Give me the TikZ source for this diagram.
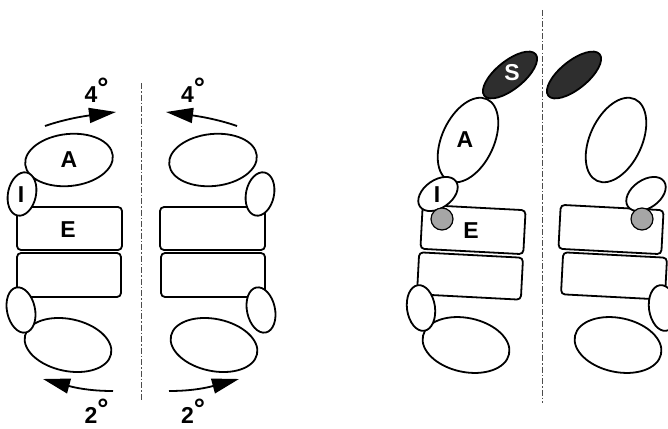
\documentclass[tikz,border=0pt]{standalone}
\usepackage{fontspec}
\setmainfont{Liberation Sans}
\usetikzlibrary{shapes.geometric,arrows.meta}

% one half of the front view (rib pair); #1 = name prefix
\newcommand\frontpair[1]{%
  \node[slab, minimum width=105pt, minimum height=43pt] (#1E) at (69.5,228.5) {};
  \node[slab, minimum width=104pt, minimum height=44pt] (#1L) at (69,275) {};
  \node[oval, minimum width=88pt, minimum height=52pt, rotate=6] (#1A) at (69,160) {};
  \node[oval, minimum width=88pt, minimum height=52pt, rotate=-12] (#1B) at (68,345) {};
  \node[oval, minimum width=28pt, minimum height=44pt, rotate=-12] (#1I) at (22,194) {};
  \node[oval, minimum width=28pt, minimum height=46pt, rotate=12] (#1J) at (21,310) {};
  \coordinate (#1ts) at (45,126);
  \coordinate (#1te) at (116,112);
  \draw[tilt] (#1ts) .. controls (65,119) and (85,116) .. (#1te);
  \coordinate (#1bs) at (113,391);
  \coordinate (#1be) at (43,379);
  \draw[tilt] (#1bs) .. controls (95,391) and (80,389) .. (#1be);
}

% one half of the side view; #1 = name prefix
\newcommand\sidepair[1]{%
  \node[slab, minimum width=103pt, minimum height=44pt, rotate=-3] (#1E) at (473,229.5) {};
  \node[slab, minimum width=104pt, minimum height=42pt, rotate=-3] (#1L) at (470,276) {};
  \node[oval, minimum width=90pt, minimum height=52pt, rotate=65] (#1A) at (468,140) {};
  \node[oval, minimum width=88pt, minimum height=54pt, rotate=-12] (#1B) at (466,345) {};
  \node[oval, fill=black!82, minimum width=66pt, minimum height=28pt, rotate=39] (#1S) at (510,75) {};
  \node[oval, minimum width=44pt, minimum height=28pt, rotate=35] (#1I) at (438,194) {};
  \node[oval, minimum width=28pt, minimum height=46pt, rotate=8] (#1J) at (421,308) {};
  \node[pad] (#1P) at (442,219) {};
}

\newcommand\degmark{\rlap{\raisebox{5pt}{\fontsize{28}{28}\selectfont °}}}

\begin{document}
\begin{tikzpicture}[x=1pt,y=-1pt,
  outline/.style={draw=black, line width=1.8pt, fill=white},
  oval/.style={outline, ellipse, inner sep=0pt},
  slab/.style={outline, rectangle, rounded corners=4pt, inner sep=0pt},
  pad/.style={draw=black, line width=1.2pt, fill=black!35, circle, inner sep=0pt, minimum size=22pt},
  spine/.style={draw=black!70, line width=1pt, dash pattern=on 6pt off 2pt on 1.5pt off 2pt},
  tilt/.style={draw=black, line width=1.8pt, -{Triangle[length=27pt,width=15pt]}},
  lbl/.style={font=\fontsize{23}{27}\selectfont\bfseries, inner sep=0pt},
  deg/.style={lbl, anchor=base},
]
\useasboundingbox (0,0) rectangle (668,428);

% midlines
\coordinate (m1t) at (141,83);
\coordinate (m1b) at (141,400);
\draw[spine] (m1t) -- (m1b);
\coordinate (m2t) at (542,10);
\coordinate (m2b) at (542,403);
\draw[spine] (m2t) -- (m2b);

% front view, both halves
\frontpair{fl}
\begin{scope}[xshift=282pt, xscale=-1]
  \frontpair{fr}
\end{scope}

% side view, both halves
\sidepair{sl}
\begin{scope}[xshift=1084pt, xscale=-1]
  \sidepair{sr}
\end{scope}

% labels
\node[lbl] (tA) at (69,160) {A};
\node[lbl] (tI) at (21,195) {I};
\node[lbl] (tE) at (68,230) {E};
\node[deg] (d1) at (91,102) {4\degmark};
\node[deg] (d2) at (187.5,102) {4\degmark};
\node[deg] (d3) at (91,423.5) {2\degmark};
\node[deg] (d4) at (187.5,423.5) {2\degmark};

\node[lbl, text=white] (sS) at (512,73) {S};
\node[lbl] (sA) at (465,140) {A};
\node[lbl] (sI) at (437,195) {I};
\node[lbl] (sE) at (471,231) {E};
\end{tikzpicture}
\end{document}
